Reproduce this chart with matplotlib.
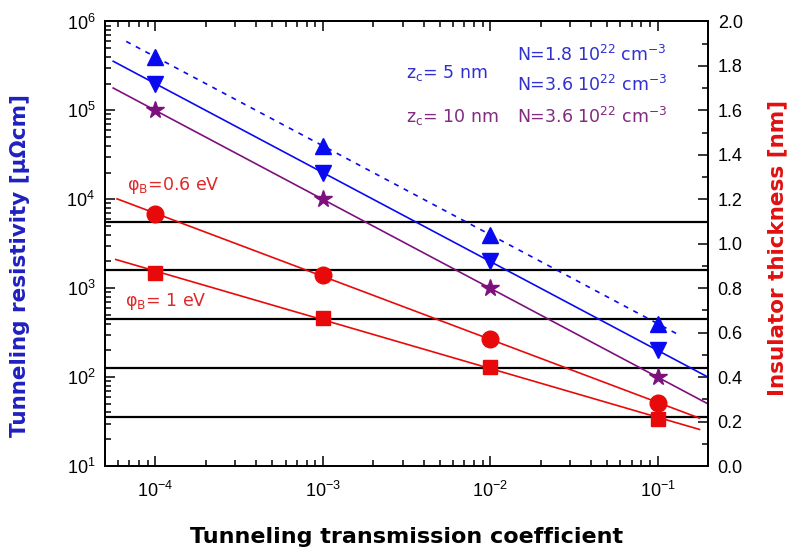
import numpy as np
import matplotlib
matplotlib.use('Agg')
import matplotlib.pyplot as plt
from matplotlib.ticker import MultipleLocator, LogLocator, NullFormatter

plt.rcParams['font.family'] = ['Liberation Sans', 'DejaVu Sans']
plt.rcParams['mathtext.fontset'] = 'custom'
plt.rcParams['mathtext.rm'] = 'Liberation Sans'
plt.rcParams['mathtext.it'] = 'Liberation Sans'
plt.rcParams['mathtext.bf'] = 'Liberation Sans:bold'
plt.rcParams['mathtext.default'] = 'regular'
plt.rcParams['axes.unicode_minus'] = False

# transmission coefficients
coef = [1e-4, 1e-3, 1e-2, 1e-1]
# resistivity (uOhm cm)
rho_n18_z5 = [4e5, 4e4, 4e3, 4e2]
rho_n36_z5 = [2e5, 2e4, 2e3, 2e2]
rho_n36_z10 = [1e5, 1e4, 1e3, 1e2]
rho_phi06 = [6.8e3, 1.4e3, 2.7e2, 51]
rho_phi1 = [1.5e3, 4.6e2, 1.3e2, 34]
# insulator thickness levels (nm)
thick_levels = [0.22, 0.44, 0.66, 0.88, 1.10]

blue = '#0a0af0'
purple = '#7d107d'
red = '#e80a0a'

fig = plt.figure(figsize=(7.97, 5.54), dpi=100)
ax = fig.add_axes([0.1317, 0.1588, 0.7566, 0.8024])
ax2 = ax.twinx()
ax.set_zorder(ax2.get_zorder() + 1)
ax.patch.set_visible(False)


def fit_line(x, y, x0, x1, **kw):
    p = np.polyfit(np.log10(x), np.log10(y), 1)
    xs = np.array([x0, x1])
    ax.plot(xs, 10 ** np.polyval(p, np.log10(xs)), **kw)


fit_line(coef, rho_n18_z5, 6.7e-5, 0.13, color=blue, lw=1.2, ls=(0, (3, 3.5)))
fit_line(coef, rho_n36_z5, 5.6e-5, 0.3, color=blue, lw=1.2)
fit_line(coef, rho_n36_z10, 5.6e-5, 0.3, color=purple, lw=1.2)
fit_line(coef, rho_phi06, 5.9e-5, 0.178, color=red, lw=1.2)
fit_line(coef, rho_phi1, 5.8e-5, 0.178, color=red, lw=1.2)

ax.plot(coef, rho_n18_z5, '^', color=blue, ms=12, ls='none')
ax.plot(coef, rho_n36_z5, 'v', color=blue, ms=12, ls='none')
ax.plot(coef, rho_n36_z10, '*', color=purple, ms=13, ls='none')
ax.plot(coef, rho_phi06, 'o', color=red, ms=12, ls='none')
ax.plot(coef, rho_phi1, 's', color=red, ms=10, ls='none')

for t in thick_levels:
    ax2.axhline(t, color='black', lw=1.6)

ax.set_xscale('log')
ax.set_yscale('log')
ax.set_xlim(5e-5, 0.2)
ax.set_ylim(10, 1e6)
ax.xaxis.set_major_locator(LogLocator(base=10, numticks=10))
ax.xaxis.set_minor_locator(LogLocator(base=10, subs=np.arange(2, 10), numticks=20))
ax.xaxis.set_minor_formatter(NullFormatter())
ax.yaxis.set_minor_locator(LogLocator(base=10, subs=np.arange(2, 10), numticks=20))
ax.yaxis.set_minor_formatter(NullFormatter())
ax.tick_params(which='both', direction='in', top=True, right=False, width=1.1,
               labelsize=13)
ax.tick_params(which='major', length=7)
ax.tick_params(which='minor', length=4)
ax.tick_params(axis='x', pad=11)
ax.tick_params(axis='y', pad=7)

ax2.set_ylim(0, 2)
ax2.yaxis.set_major_locator(MultipleLocator(0.2))
ax2.yaxis.set_minor_locator(MultipleLocator(0.1))
ax2.yaxis.set_major_formatter(lambda v, pos: '%.1f' % v)
ax2.tick_params(which='both', direction='in', width=1.1, labelsize=13, pad=7)
ax2.tick_params(which='major', length=7)
ax2.tick_params(which='minor', length=4)

for a in (ax, ax2):
    for s in a.spines.values():
        s.set_linewidth(1.3)

lab = dict(family=['DejaVu Sans'], fontweight='bold')
ax.set_xlabel('Tunneling transmission coefficient', fontsize=16, **lab)
ax.xaxis.set_label_coords(0.5, -0.138)
ax.set_ylabel('Tunneling resistivity [μΩcm]', fontsize=15.5, color='#2020c0', **lab)
ax.yaxis.set_label_coords(-0.124, 0.45)
ax2.set_ylabel('Insulator thickness [nm]', fontsize=15.5, color='#e01010',
               rotation=90, **lab)
ax2.yaxis.set_label_coords(1.098, 0.49)

tb = '#3030d0'
tp = '#802a80'
tr = '#e02828'
kw = dict(transform=ax.transAxes, fontsize=12.5, va='center', ha='left',
          family=['DejaVu Sans'])
ax.text(0.499, 0.884, 'z$_c$= 5 nm', color=tb, **kw)
ax.text(0.683, 0.925, 'N=1.8 10$^{22}$ cm$^{-3}$', color=tb, **kw)
ax.text(0.683, 0.857, 'N=3.6 10$^{22}$ cm$^{-3}$', color=tb, **kw)
ax.text(0.499, 0.786, 'z$_c$= 10 nm', color=tp, **kw)
ax.text(0.683, 0.786, 'N=3.6 10$^{22}$ cm$^{-3}$', color=tp, **kw)
ax.text(0.036, 0.632, 'φ$_B$=0.6 eV', color=tr, **kw)
ax.text(0.033, 0.371, 'φ$_B$= 1 eV', color=tr, **kw)

fig.savefig('out.png', dpi=100)
